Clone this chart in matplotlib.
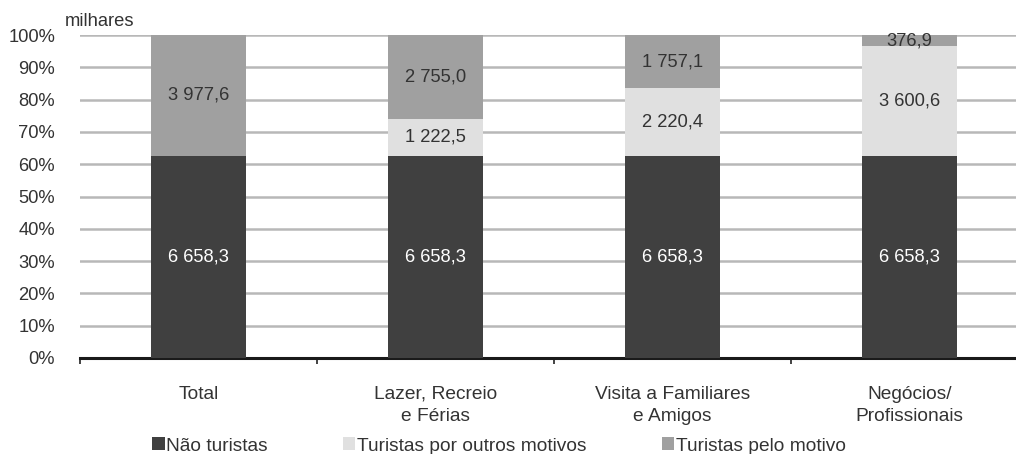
import matplotlib
matplotlib.use("Agg")
import matplotlib.pyplot as plt
import numpy as np
from matplotlib.patches import Patch

plt.rcParams['font.family'] = ['Liberation Sans', 'DejaVu Sans']

categories = ["Total", "Lazer, Recreio\ne Férias", "Visita a Familiares\ne Amigos", "Negócios/\nProfissionais"]
nao_turistas = [6658.3, 6658.3, 6658.3, 6658.3]
outros_motivos = [0.0, 1222.5, 2220.4, 3600.6]
pelo_motivo = [3977.6, 2755.0, 1757.1, 376.9]
series_names = ["Não turistas", "Turistas por outros motivos", "Turistas pelo motivo"]
colors = ["#404040", "#e0e0e0", "#a0a0a0"]
y_ticks = [0, 10, 20, 30, 40, 50, 60, 70, 80, 90, 100]

FS = 13.2       # tick and value labels
FS_CAT = 13.8   # category labels and legend
TXT = "#333333"


def fmt(v):
    s = f"{v:,.1f}"
    return s.replace(",", " ").replace(".", ",")


fig = plt.figure(figsize=(10.16, 4.54), dpi=100)
ax = fig.add_axes([80 / 1016, 1 - 358 / 454, 1 - 80 / 1016, (358 - 35) / 454])

x = np.arange(len(categories))
data = np.array([nao_turistas, outros_motivos, pelo_motivo])
totals = data.sum(axis=0)
pct = data / totals * 100

bottom = np.zeros(len(categories))
for i, (vals, p) in enumerate(zip(data, pct)):
    ax.bar(x, p, bottom=bottom, width=0.4, color=colors[i], zorder=3)
    for j in range(len(categories)):
        if vals[j] > 0:
            ax.text(x[j], bottom[j] + p[j] / 2, fmt(vals[j]),
                    ha="center", va="center", fontsize=FS,
                    color="white" if i == 0 else TXT, zorder=4)
    bottom += p

ax.set_xlim(-0.5, 3.45)
ax.set_ylim(0, 100)
ax.set_yticks(y_ticks)
ax.set_yticklabels([f"{t}%" for t in y_ticks], fontsize=FS, color=TXT)
ax.yaxis.grid(True, color="#b8b8b8", linewidth=1.8, zorder=0)
ax.set_axisbelow(True)

ax.set_xticks(np.arange(-0.5, 3.5, 1.0))
ax.set_xticklabels([])
ax.tick_params(axis="x", length=4, width=1.2, color="#222222", direction="out")
ax.tick_params(axis="y", length=0, pad=18)

for j, c in enumerate(categories):
    ax.text(x[j], -8.6, c, ha="center", va="top", fontsize=FS_CAT,
            color=TXT, linespacing=1.38)

for s in ["top", "right", "left"]:
    ax.spines[s].set_visible(False)
ax.spines["bottom"].set_linewidth(2.2)
ax.spines["bottom"].set_color("#1a1a1a")

fig.text(65 / 1016, 1 - 21 / 454, "milhares", ha="left", va="center",
         fontsize=FS, color=TXT)

handles = [Patch(facecolor=c, edgecolor="none") for c in colors]
fig.legend(handles, series_names, loc="center", bbox_to_anchor=(499 / 1016, 1 - 446 / 454),
           ncol=3, frameon=False, fontsize=FS_CAT, handlelength=0.65, handleheight=0.65,
           handletextpad=0.1, columnspacing=3.9, labelcolor=TXT,
           borderpad=0, borderaxespad=0)

fig.savefig("out.png", dpi=100)
